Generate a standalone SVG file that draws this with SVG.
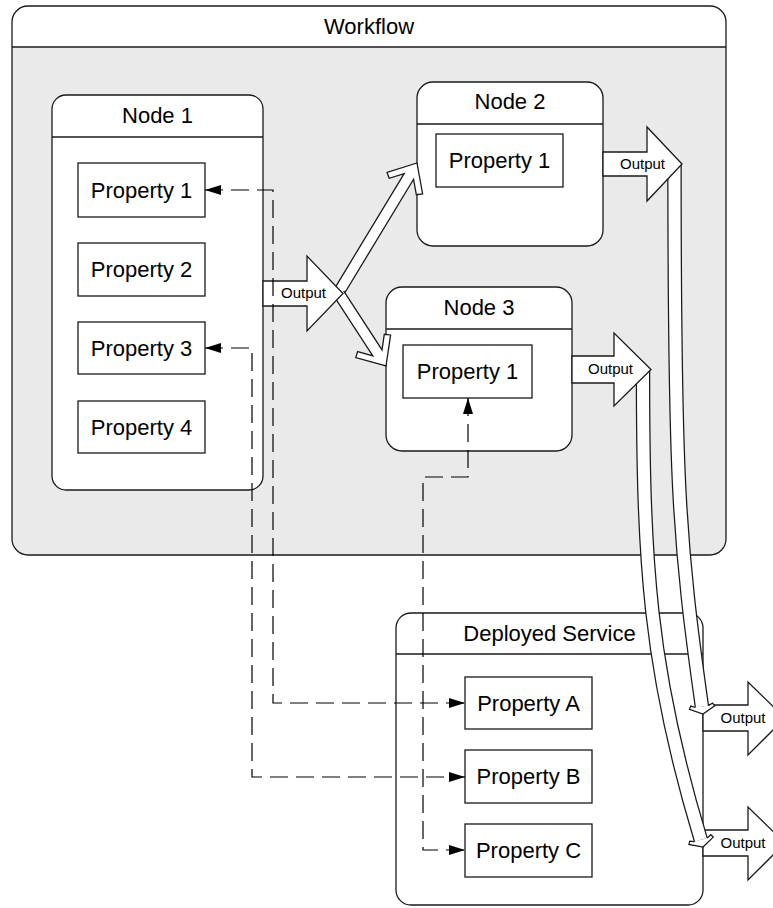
<svg xmlns="http://www.w3.org/2000/svg" xmlns:xlink="http://www.w3.org/1999/xlink" width="773" height="908" viewBox="0 0 773 908">
  <style>
    .frame{fill:#fff;stroke:#1a1a1a;stroke-width:1.3}
    .rule{stroke:#1a1a1a;stroke-width:1.3}
    .prop{fill:#fff;stroke:#1a1a1a;stroke-width:1.3}
    .t{font-family:"Liberation Sans",Arial,sans-serif;font-size:22px;fill:#000;text-anchor:middle}
    .o{font-size:15px}
    .blk{fill:#fff;stroke:#1a1a1a;stroke-width:1.3;stroke-linejoin:miter}
    .bandout{fill:none;stroke:#1a1a1a;stroke-width:14.5}
    .bandin{fill:none;stroke:#fff;stroke-width:12}
    .chev{fill:#fff;stroke:#1a1a1a;stroke-width:1.25;stroke-linejoin:miter}
    .link{fill:none;stroke:#000;stroke-width:1.2;stroke-dasharray:18 8;marker-start:url(#ah);marker-end:url(#ah)}
  </style>
  <defs>
    <marker id="ah" markerUnits="userSpaceOnUse" markerWidth="16" markerHeight="10" viewBox="0 0 16 10" refX="16" refY="5" orient="auto-start-reverse">
      <path d="M0,0 L16,5 L0,10 Z" fill="#000"/>
    </marker>
    <!-- flat chevron head for the curved flow bands (tip at origin, pointing +x) -->
    <path id="chev" d="M-7.5,-6.6 L-9.5,-11 L-6.5,-12.7 L0,0 L-6.5,12.7 L-9.5,11 L-7.5,6.6"/>
  </defs>

  <!-- Workflow container -->
  <g id="workflow">
    <rect x="12" y="6" width="714" height="549" rx="16" fill="#eaeaea"/>
    <path d="M12,47 V22 A16,16 0 0 1 28,6 H710 A16,16 0 0 1 726,22 V47 Z" fill="#fff"/>
    <line class="rule" x1="12" y1="47" x2="726" y2="47"/>
    <rect x="12" y="6" width="714" height="549" rx="16" fill="none" stroke="#1a1a1a" stroke-width="1.3"/>
    <text class="t" x="369" y="34">Workflow</text>
  </g>

  <!-- Node 1 -->
  <g id="node1">
    <rect class="frame" x="52" y="95" width="211" height="395" rx="14"/>
    <line class="rule" x1="52" y1="137" x2="263" y2="137"/>
    <text class="t" x="157.5" y="123">Node 1</text>
    <rect class="prop" x="78" y="163" width="127" height="54"/>
    <text class="t" x="141.5" y="198">Property 1</text>
    <rect class="prop" x="78" y="243" width="127" height="53"/>
    <text class="t" x="141.5" y="277">Property 2</text>
    <rect class="prop" x="78" y="322" width="127" height="52"/>
    <text class="t" x="141.5" y="356">Property 3</text>
    <rect class="prop" x="78" y="401" width="127" height="52"/>
    <text class="t" x="141.5" y="435">Property 4</text>
  </g>

  <!-- Node 2 -->
  <g id="node2">
    <rect class="frame" x="417" y="82" width="186" height="164" rx="16"/>
    <line class="rule" x1="417" y1="124" x2="603" y2="124"/>
    <text class="t" x="510" y="109">Node 2</text>
    <rect class="prop" x="436" y="134" width="127" height="53"/>
    <text class="t" x="499.5" y="168">Property 1</text>
  </g>

  <!-- Node 3 -->
  <g id="node3">
    <rect class="frame" x="386" y="287" width="186" height="164" rx="16"/>
    <line class="rule" x1="386" y1="329" x2="572" y2="329"/>
    <text class="t" x="479" y="315">Node 3</text>
    <rect class="prop" x="403" y="345" width="129" height="53"/>
    <text class="t" x="467.5" y="379">Property 1</text>
  </g>

  <!-- Deployed Service -->
  <g id="deployed-service">
    <rect class="frame" x="396" y="613" width="307" height="292" rx="15"/>
    <line class="rule" x1="396" y1="654" x2="703" y2="654"/>
    <text class="t" x="549.5" y="641">Deployed Service</text>
    <rect class="prop" x="465" y="677" width="127" height="52"/>
    <text class="t" x="528.5" y="711">Property A</text>
    <rect class="prop" x="465" y="750" width="127" height="53"/>
    <text class="t" x="528.5" y="784">Property B</text>
    <rect class="prop" x="465" y="824" width="127" height="53"/>
    <text class="t" x="528.5" y="858">Property C</text>
  </g>

  <!-- Deployed Service outputs -->
  <g id="service-outputs">
    <polygon class="blk" points="703,705 748,705 748,682 785,718 748,755 748,731 703,731"/>
    <text class="t o" x="743" y="723">Output</text>
    <polygon class="blk" points="703,830 748,830 748,807 785,843 748,880 748,856 703,856"/>
    <text class="t o" x="743" y="848">Output</text>
  </g>

  <!-- Output flows between nodes and to the service -->
  <g id="flows">
    <path class="blk" transform="translate(417,163) rotate(-58.8)" d="M-150.7,-5.5 L-15.7,-5.5 L-27.5,-15.9 L-23.5,-20.8 L0,0 L-23.5,20.8 L-27.5,15.9 L-15.7,5.5 L-150.7,5.5"/>
    <path class="blk" transform="translate(386,366) rotate(56.9)" d="M-86,-5.5 L-15.7,-5.5 L-27.5,-15.9 L-23.5,-20.8 L0,0 L-23.5,20.8 L-27.5,15.9 L-15.7,5.5 L-86,5.5"/>
    <path class="bandout" d="M674.5,164 C674.5,480 678.43,540.26 701.95,706.58"/>
    <path class="bandin" d="M674.5,164 C674.5,480 678.43,540.26 701.95,706.58"/>
    <use xlink:href="#chev" href="#chev" class="chev" transform="translate(703,714) rotate(81.95)"/>
    <path class="bandout" d="M643,370 C643,560 648.63,667.56 700.83,839.82"/>
    <path class="bandin" d="M643,370 C643,560 648.63,667.56 700.83,839.82"/>
    <use xlink:href="#chev" href="#chev" class="chev" transform="translate(703,847) rotate(73.14)"/>
  </g>

  <!-- Node outputs -->
  <g id="node1-output">
    <polygon class="blk" points="263,281 307,281 307,256 343,293.5 307,331 307,306 263,306"/>
    <text class="t o" x="303.5" y="298">Output</text>
  </g>
  <g id="node2-output">
    <polygon class="blk" points="603,152 647,152 647,127 682,164 647,201 647,176 603,176"/>
    <text class="t o" x="642.5" y="169">Output</text>
  </g>
  <g id="node3-output">
    <polygon class="blk" points="572,356 614,356 614,333 651,369.5 614,406 614,383 572,383"/>
    <text class="t o" x="610.5" y="374">Output</text>
  </g>

  <!-- Property bindings -->
  <g id="bindings">
    <path class="link" d="M205,190 H273 V703 H465"/>
    <path class="link" d="M205,348 H252 V777 H465"/>
    <path class="link" d="M468,398 V477 H423 V850 H465"/>
  </g>
</svg>
